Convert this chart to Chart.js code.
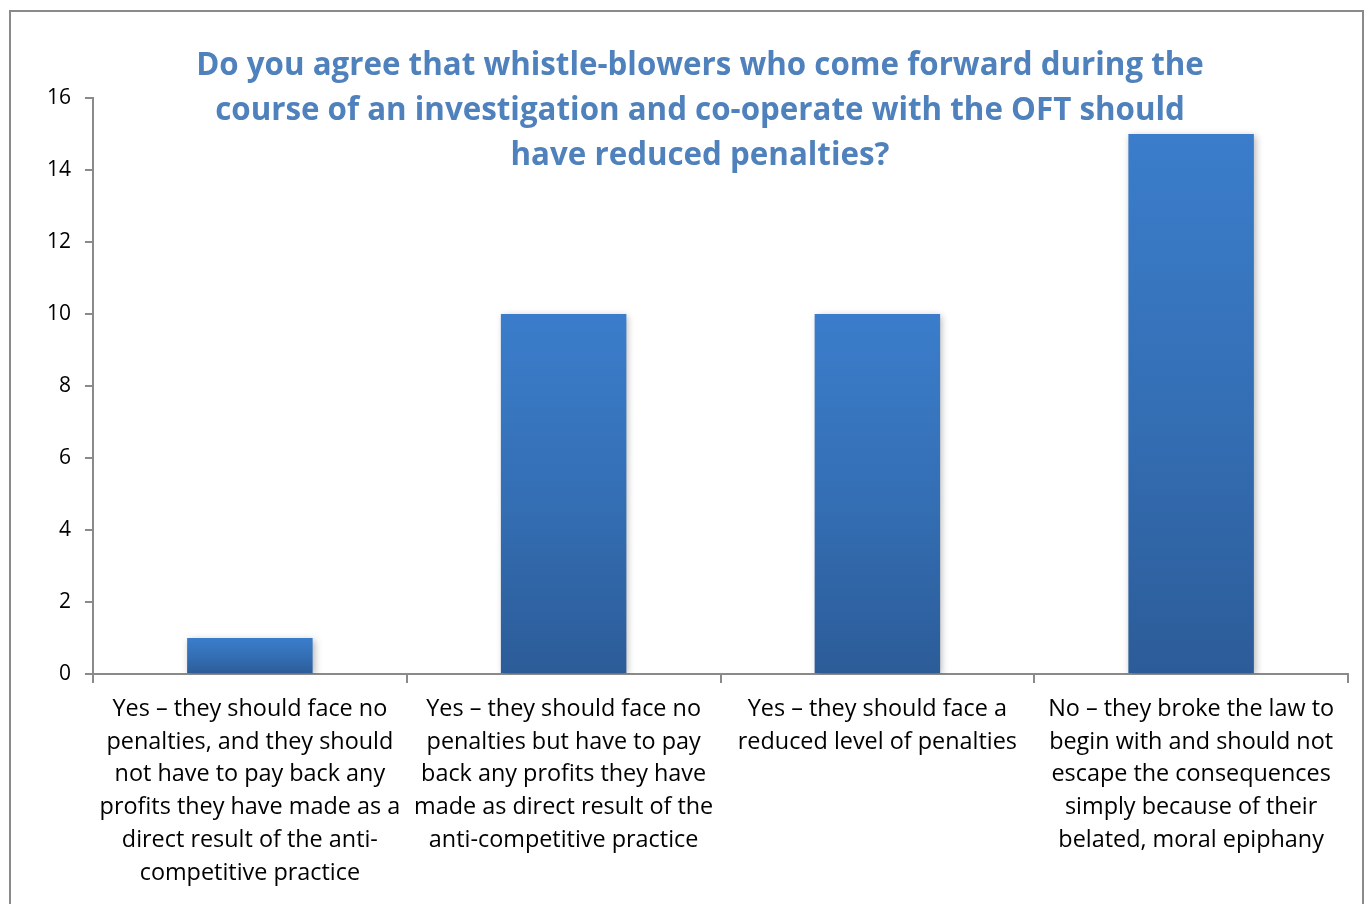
<!DOCTYPE html>
<html>
<head>
<meta charset="utf-8">
<script src="https://cdn.jsdelivr.net/npm/chart.js@4.4.1/dist/chart.umd.min.js"></script>
<style>
    html, body { margin: 0; padding: 0; background: #fff; }
    #wrap { position: relative; width: 1368px; height: 904px; overflow: hidden; }
    #frame {
        position: absolute; left: 9px; top: 10px; width: 1355px; height: 920px;
        border: 2px solid #8a8a8a; box-sizing: border-box;
    }
    #title {
        position: absolute; left: 100px; width: 1200px; top: 41px;
        text-align: center; color: #4f81bd;
        font: bold 31.3px "Open Sans", sans-serif; line-height: 45px;
    }
    canvas { position: absolute; left: 0; top: 0; }
</style>
</head>
<body>
<div id="wrap">
    <div id="frame"></div>
    <canvas id="chart" width="1368" height="904"></canvas>
    <div id="title">Do you agree that whistle-blowers who come forward during the<br>course of an investigation and co-operate with the OFT should<br>have reduced penalties?</div>
</div>
<script>
// Respuestas a la consulta, una entrada por opción
const categories = [
    ['Yes – they should face no', 'penalties, and they should', 'not have to pay back any', 'profits they have made as a', 'direct result of the anti-', 'competitive practice'],
    ['Yes – they should face no', 'penalties but have to pay', 'back any profits they have', 'made as direct result of the', 'anti-competitive practice'],
    ['Yes – they should face a', 'reduced level of penalties'],
    ['No – they broke the law to', 'begin with and should not', 'escape the consequences', 'simply because of their', 'belated, moral epiphany']
];
const responses = [1, 10, 10, 15];
const yTicks = [0, 2, 4, 6, 8, 10, 12, 14, 16];

const axisColor = '#8a8a8a';
const fontFamily = '"Open Sans", sans-serif';

// Degradado vertical por barra: más claro arriba, más oscuro abajo
function barGradient(context) {
    const chart = context.chart;
    const yScale = chart.scales.y;
    if (!chart.chartArea || !yScale) return '#3a7bc8';
    const top = yScale.getPixelForValue(context.raw);
    const bottom = yScale.getPixelForValue(0);
    if (!isFinite(top) || !isFinite(bottom) || top === bottom) return '#3a7bc8';
    const g = chart.ctx.createLinearGradient(0, top, 0, bottom);
    g.addColorStop(0, '#3b7dcb');
    g.addColorStop(0.5, '#346fb5');
    g.addColorStop(1, '#2c5c98');
    return g;
}

// Sombra suave detrás de las barras
const barShadow = {
    id: 'barShadow',
    beforeDatasetsDraw(chart) {
        const ctx = chart.ctx;
        ctx.save();
        ctx.shadowColor = 'rgba(0,0,0,0.28)';
        ctx.shadowBlur = 7;
        ctx.shadowOffsetX = 2;
        ctx.shadowOffsetY = 2;
    },
    afterDatasetsDraw(chart) {
        chart.ctx.restore();
    }
};

const ctx = document.getElementById('chart').getContext('2d');
new Chart(ctx, {
    type: 'bar',
    data: {
        labels: categories,
        datasets: [{
            data: responses,
            backgroundColor: barGradient,
            borderWidth: 0,
            categoryPercentage: 0.4,
            barPercentage: 1
        }]
    },
    plugins: [barShadow],
    options: {
        responsive: false,
        animation: false,
        layout: { padding: { left: 0, top: 98, right: 20, bottom: 0 } },
        plugins: {
            legend: { display: false },
            title: { display: false },
            tooltip: { enabled: false }
        },
        scales: {
            x: {
                afterFit: (scale) => { scale.height = 230; },
                border: { display: true, color: axisColor, width: 2 },
                grid: { display: true, drawOnChartArea: false, color: axisColor, lineWidth: 2, tickLength: 9, offset: true },
                ticks: {
                    color: '#000',
                    font: { family: fontFamily, size: 23.4, lineHeight: 32.7 / 23.4 },
                    padding: 10,
                    maxRotation: 0,
                    autoSkip: false
                }
            },
            y: {
                min: 0,
                max: 16,
                afterFit: (scale) => { scale.width = 93; },
                afterBuildTicks: (scale) => { scale.ticks = yTicks.map(v => ({ value: v })); },
                border: { display: true, color: axisColor, width: 2 },
                grid: { display: true, drawOnChartArea: false, color: axisColor, lineWidth: 2, tickLength: 8 },
                ticks: {
                    color: '#000',
                    font: { family: fontFamily, size: 21 },
                    padding: 14
                }
            }
        }
    }
});
</script>
</body>
</html>
